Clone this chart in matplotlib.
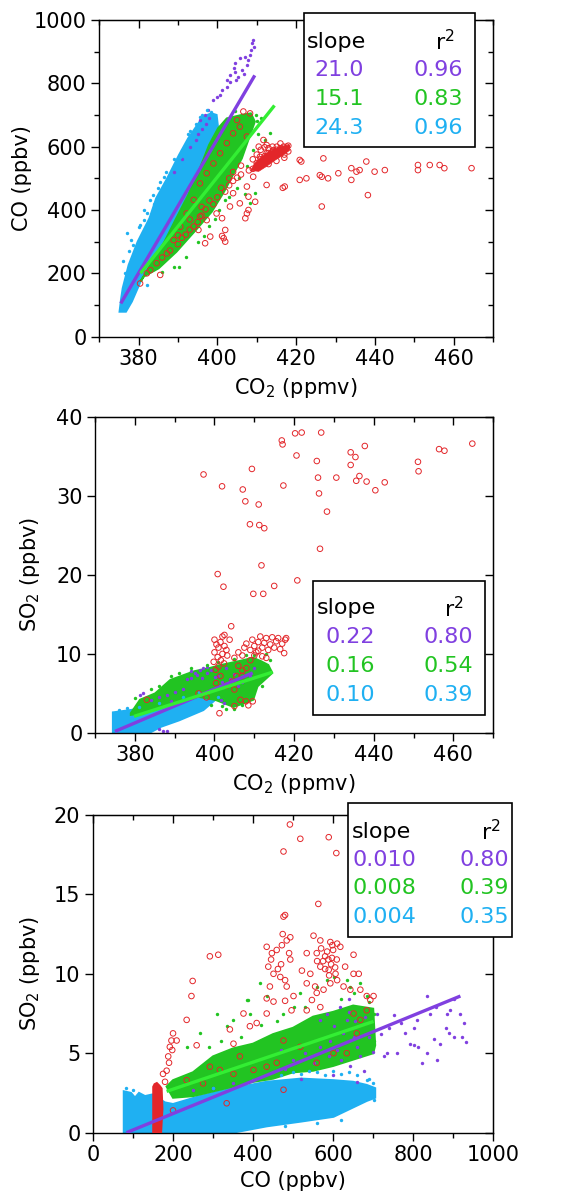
import matplotlib
matplotlib.use("Agg")
import matplotlib.pyplot as plt
from matplotlib.ticker import MultipleLocator, NullFormatter, NullLocator
from matplotlib.patches import Rectangle

PURPLE = "#8040e0"
GREEN = "#22c422"
GREEN_LINE = "#33ee33"
BLUE = "#1fb0f2"
RED = "#e3262a"

# ---------------- panel 1 : CO vs CO2 ----------------
p1_blue_env_x = [375.2, 375.6, 376.0, 377.5, 379.8, 382.8, 384.5, 387.3, 390.3, 392.6, 396.4, 398.5, 399.8,
                 400.2, 397.9, 395.6, 392.6, 389.6, 386.6, 383.5, 380.5, 378.3, 376.8]
p1_blue_env_y = [79, 120, 153, 226, 300, 374, 437, 500, 574, 626, 695, 705, 700,
                 658, 605, 532, 447, 374, 300, 237, 174, 111, 79]
p1_blue_dots = [(383.8, 447), (385.5, 489), (390.6, 568), (391.8, 600), (393.9, 632), (395.6, 695), (381.3, 368),
                (382.1, 389), (388.9, 463), (382.1, 163), (377, 326), (378.2, 305), (387, 520), (389.5, 540),
                (380, 345), (384, 420), (393, 650), (376, 240), (398.5, 710), (397.5, 715), (383, 430),
                (385, 470), (386.5, 505), (389, 560), (391, 590), (392.5, 640), (381.5, 400), (378.5, 290),
                (377.5, 270), (376.5, 200), (394.5, 670), (396, 700), (380.5, 352), (386, 455), (388, 480)]
p1_green_env_x = [380.5, 383.5, 386.6, 389.6, 392.6, 395.6, 397.9, 400.2, 402.4, 406.2, 408.5,
                  409.5, 407.7, 406.2, 403.9, 401.7, 398.6, 394.9, 389.6, 385.1, 381.3]
p1_green_env_y = [174, 237, 300, 374, 447, 532, 605, 658, 689, 700, 705,
                  679, 616, 563, 510, 458, 395, 342, 268, 216, 190]
p1_green_dots = [(409.5, 453), (408.3, 421), (413.4, 642), (412, 620), (388.9, 221), (386, 205), (405, 470),
                 (407, 450), (384, 215), (402, 430), (410, 680), (411, 690), (409.8, 700), (404.5, 712),
                 (390.3, 221), (392, 250), (395, 300), (398, 350), (400.5, 400), (403, 440), (405.5, 500),
                 (407.5, 540), (409, 590), (410.2, 640), (396.5, 318), (399.5, 372)]
p1_purple_dots = [(399, 747), (399.8, 757), (401.1, 779), (402.4, 811), (403.2, 826), (404.1, 847), (404.5, 863),
                  (405.8, 879), (407, 884), (408.3, 889), (408.7, 926), (409, 937), (407.9, 874), (405.3, 821),
                  (403.2, 805), (402.4, 789), (400.7, 763), (397.7, 716), (395.6, 684), (396.9, 700),
                  (404.5, 837), (406.2, 842), (407.5, 858), (404.7, 810), (406.8, 830), (408.5, 905), (409.2, 915),
                  (393, 600), (395, 640), (397, 670), (398, 690), (394.5, 620), (396, 655), (391, 560), (389, 520)]
p1_red_core_x = [408.5, 409.5, 411, 413, 415.5, 418.3, 418.3, 416.5, 414.5, 412.5, 410.5]
p1_red_core_y = [525, 548, 566, 584, 598, 606, 588, 572, 556, 538, 522]
p1_red = [(412.5, 479), (417.1, 474), (416.6, 470), (420.9, 495), (422.6, 500), (420.9, 558), (426.9, 563),
          (426.5, 505), (426.0, 510), (428.1, 500), (430.7, 516), (426.5, 411), (434, 532), (434, 495),
          (435.3, 521), (436.1, 526), (437.8, 553), (438.2, 447), (439.9, 521), (442.5, 526), (450.9, 542),
          (450.9, 526), (453.9, 542), (456.4, 542), (457.6, 532), (464.5, 532), (421.3, 553),
          (385.5, 195), (380.4, 168), (382.1, 200), (396.9, 295), (398.2, 316), (401.6, 311), (402, 300),
          (401.2, 318), (395.2, 337), (402, 337), (401.2, 374), (407.9, 400), (407.5, 389), (407.1, 374),
          (409.6, 426), (407.9, 442), (397.3, 368), (395.6, 379), (399.8, 389), (403.2, 411), (405.7, 421),
          (404, 453), (407.5, 474), (409.1, 505), (410, 537), (410.8, 568), (412.5, 579), (414.2, 589),
          (415.1, 600), (416.8, 600), (417.6, 600), (410.5, 600), (411.7, 621), (412.5, 605), (407.5, 632),
          (408.3, 705), (406.6, 711), (405, 684), (405.7, 663), (404, 642), (402.4, 611), (400.7, 579),
          (399, 547), (397.3, 516), (395.6, 484), (394, 432), (392.2, 389), (390.6, 347), (388.9, 305),
          (387.2, 263), (384.6, 232), (383, 210),
          (411, 560), (412, 570), (413, 580), (414, 585), (415, 590), (416, 595), (417, 588), (418, 603),
          (412, 550), (413, 545), (415, 575), (416, 580), (410, 575), (411, 590), (414, 600), (417, 575),
          (409, 560), (410, 548), (408, 525), (412, 598), (416, 610), (413, 595), (414, 565), (415, 555),
          (411, 540), (409, 530), (418, 585), (417, 565),
          (386, 250), (388, 272), (390, 292), (391, 312), (392, 322), (393, 338), (394, 348), (395, 362),
          (396, 382), (397, 402), (399, 418), (400, 440), (402, 458), (403, 478), (404, 492), (405, 502),
          (406, 512), (404, 520), (406, 540), (403, 500), (401, 470), (398, 430), (396, 410), (393, 370),
          (390, 320)]
p1_fit_purple = [(375.5, 105), (409.5, 825)]
p1_fit_green = [(380.5, 200), (414.5, 730)]
p1_slopes = ["21.0", "15.1", "24.3"]
p1_r2 = ["0.96", "0.83", "0.96"]

# ---------------- panel 2 : SO2 vs CO2 ----------------
p2_blue_env_x = [374.5, 374.5, 379.0, 383.6, 389.6, 393.4, 397.2, 399.5, 400.2, 397.2, 391.1, 386.6, 383.6]
p2_blue_env_y = [0, 2.6, 2.9, 3.3, 4.2, 4.6, 5.0, 5.0, 4.2, 2.9, 1.6, 0.8, 0]
p2_blue_dots = [(376, 2.9), (378, 3.1), (381, 3.3), (386, 3.8), (392, 4.6), (396, 5.2), (399, 5.4), (401, 4.6)]
p2_green_env_x = [379.0, 381.3, 385.1, 388.9, 391.1, 394.9, 398.7, 401.7, 406.3, 409.7, 411.6, 413.5,
                  414.5, 410.8, 409.7, 404.8, 400.2, 395.7, 391.1, 386.6, 382.0, 379.0]
p2_green_env_y = [2.5, 4.2, 5.0, 6.7, 7.1, 7.8, 8.2, 8.6, 9.1, 9.5, 9.1, 8.6,
                  7.6, 5.9, 4.2, 3.3, 4.2, 4.6, 3.7, 3.3, 2.5, 2.3]
p2_green_dots = [(386, 6.0), (389, 7.2), (391, 7.6), (394, 8.2), (398, 8.6), (401, 9.0), (405, 9.4), (408, 9.8),
                 (410, 9.9), (413, 10.0), (407, 3.6), (405, 3.0), (403, 3.0), (409, 5.2), (408, 4.3), (406, 4.6),
                 (411, 6.8), (384, 5.6), (380, 4.4), (399, 3.6), (402, 3.4), (412, 6.0), (414, 9.2)]
p2_purple_dots = [(382.1, 5.05), (381.3, 4.8), (384, 4.2), (386, 4.5), (388, 4.8), (390, 5.2), (392, 5.5),
                  (394.2, 7.0), (394.2, 7.8), (396.4, 8.0), (397.2, 8.2), (398, 8.4), (399, 8.0), (400.2, 7.1),
                  (401, 7.2), (402, 6.5), (404, 6.8), (405, 7.5), (406, 6.0), (403, 8.2), (395, 7.6), (393, 6.8),
                  (389, 4.0), (387, 0.3), (388, 0.2), (386, 0.5), (401.7, 4.2), (402.4, 3.8), (407, 6.5),
                  (409, 7.2), (410, 8.2), (395.5, 7.3), (396.8, 7.0), (398.2, 7.6)]
p2_red = [(397.25, 32.7), (401.9, 31.2), (400.8, 20.1), (402.25, 18.5), (407.1, 30.8), (407.75, 29.3),
          (409.4, 33.4), (408.9, 26.4), (411.1, 28.9), (411.25, 26.3), (412.5, 25.9), (411.8, 21.2),
          (409.75, 17.6), (412.25, 17.6), (415, 18.6), (416.9, 37.0), (417.1, 36.5), (417.3, 31.3),
          (420.25, 37.9), (421.9, 38.0), (420.6, 35.1), (420.8, 19.3), (425.7, 34.4), (426.0, 32.3),
          (426.25, 30.3), (426.5, 23.3), (426.8, 38.0), (428.25, 28.0), (430.6, 32.3), (434.2, 35.5),
          (434.2, 33.9), (435.4, 34.9), (435.6, 31.9), (436.4, 32.5), (437.75, 36.3), (438.2, 31.8),
          (440.4, 30.7), (442.75, 31.7), (451.1, 34.3), (451.25, 33.1), (456.4, 35.9), (457.75, 35.7),
          (464.75, 36.6),
          (400, 11.8), (400.5, 11.2), (401, 10.8), (401.5, 11.5), (402, 12.2), (402.5, 11.0), (403, 10.5),
          (400, 10.2), (400.8, 9.6), (401.6, 9.2), (402.4, 8.8), (403.2, 9.8), (399.8, 9.0), (401, 8.4),
          (402, 10.0), (403.8, 11.8), (404.2, 13.5), (402.5, 12.4), (400.3, 8.0), (401.5, 7.2),
          (405, 9.5), (406, 10.2), (407, 9.8), (407.5, 10.8), (408, 11.3), (409, 10.5), (409.5, 11.8),
          (410, 11.0), (410.5, 10.2), (411, 11.5), (411.5, 12.2), (412, 10.8), (412.5, 11.4), (413, 12.0),
          (413.5, 10.5), (414, 11.2), (414.5, 12.1), (415, 10.8), (415.5, 11.6), (416, 12.0), (416.5, 10.6),
          (417, 11.3), (417.5, 10.1), (417.75, 11.8), (418, 12.0), (409, 9.2), (410, 9.8), (411, 10.4),
          (412, 9.7), (413, 9.5), (406, 8.5), (407, 7.9), (408, 8.2), (405.5, 7.2), (404.5, 6.5),
          (401.25, 2.5), (405, 3.4), (406.5, 4.2), (407.9, 4.0), (409.6, 4.0), (408.5, 3.5), (407, 7.2),
          (400.4, 6.3), (383, 4.2), (403, 6.0), (405, 5.5), (398, 4.5), (396, 5.0)]
p2_fit_purple = [(375.0, 0.2), (409.6, 7.6)]
p2_fit_green = [(379.8, 2.1), (414.6, 7.7)]
p2_slopes = ["0.22", "0.16", "0.10"]
p2_r2 = ["0.80", "0.54", "0.39"]

# ---------------- panel 3 : SO2 vs CO ----------------
p3_blue_env_x = [77, 77, 95, 105, 115, 130, 148, 180, 200, 267, 350, 434, 520, 601, 650, 684, 705,
                 705, 684, 601, 520, 434, 350]
p3_blue_env_y = [0, 2.6, 2.5, 2.2, 2.5, 2.3, 2.4, 1.9, 1.8, 2.3, 2.8, 3.2, 3.4, 3.3, 3.2, 3.0, 2.8,
                 2.2, 2.0, 1.0, 0.7, 0.4, 0]
p3_blue_dots = [(701, 2.05), (684, 3.3), (700, 3.1), (690, 3.4), (640, 3.8), (560, 3.8), (520, 3.7),
                (470, 3.6), (400, 3.3), (300, 2.8), (620, 0.8), (560, 0.6), (480, 0.4), (82, 2.8), (100, 2.7),
                (600, 3.9), (660, 3.6), (580, 3.6), (620, 3.7), (540, 3.9), (500, 3.8)]
p3_green_env_x = [184, 200, 250, 300, 350, 400, 450, 500, 550, 600, 650, 700, 705,
                  700, 650, 600, 550, 500, 450, 400, 350, 300, 250, 200]
p3_green_env_y = [2.9, 3.3, 3.8, 4.8, 5.3, 5.6, 6.2, 6.6, 7.3, 7.6, 8.0, 7.8, 5.5,
                  5.0, 4.6, 4.2, 3.9, 3.8, 3.4, 3.2, 2.9, 2.6, 2.3, 2.2]
p3_green_dots = [(309, 7.5), (384, 8.35), (392, 7.5), (267, 6.25), (234, 5.4), (334, 6.7), (351, 7.1),
                 (434, 8.6), (476, 7.5), (501, 7.9), (518, 8.8), (559, 9.2), (584, 9.6), (601, 9.8), (634, 9.6),
                 (643, 9.2), (651, 8.8), (668, 9.4), (684, 8.6), (701, 7.5), (701, 5.8), (684, 5.4), (601, 5.4),
                 (559, 5.0), (434, 4.8), (351, 4.15), (267, 3.7), (225, 3.1), (417, 9.45), (388, 8.35),
                 (290, 5.4), (320, 5.8), (370, 6.0), (420, 6.8), (460, 7.0), (530, 7.9), (620, 8.4), (690, 8.2)]
p3_purple_dots = [(568, 7.1), (584, 7.5), (601, 6.7), (593, 5.8), (568, 5.4), (551, 4.4), (618, 7.9), (634, 7.1),
                  (651, 6.0), (668, 4.8), (676, 3.9), (643, 4.2), (610, 5.2), (625, 6.3), (640, 7.6), (655, 7.0),
                  (660, 5.4), (620, 4.6), (590, 4.8), (660, 3.2), (600, 3.6), (530, 5.0), (500, 4.6), (480, 4.0),
                  (520, 3.4), (450, 3.8), (640, 8.4), (680, 7.3), (690, 6.0), (700, 5.1), (470, 5.2), (350, 3.1),
                  (300, 2.8), (250, 2.7),
                  (751, 7.4), (760, 5.0), (780, 6.25), (801, 6.6), (810, 7.1), (801, 5.5), (813, 5.4), (822, 4.4),
                  (835, 5.0), (843, 7.5), (851, 5.9), (860, 4.6), (868, 5.6), (881, 6.6), (885, 7.5), (893, 7.7),
                  (902, 8.4), (918, 7.5), (927, 6.9), (931, 5.7), (922, 6.0), (902, 6.0), (889, 6.25), (856, 7.9),
                  (835, 8.6), (793, 5.6), (735, 5.0), (726, 4.8), (710, 7.5), (720, 6.2), (740, 6.6), (770, 6.9)]
p3_red_block_x = [148, 148, 152, 160, 168, 174, 176, 172]
p3_red_block_y = [-0.3, 2.9, 3.1, 3.2, 3.0, 2.8, 1.5, -0.3]
p3_red = [(492, 19.4), (518, 18.5), (589, 18.6), (608, 17.6), (476, 17.7), (563, 14.4), (476, 13.6), (480, 13.7),
          (474, 12.5), (292, 11.1), (313, 11.2), (249, 9.55), (246, 8.6), (234, 7.1),
          (184, 3.9), (188, 4.8), (192, 5.4), (196, 5.8), (209, 5.8), (200, 6.25), (175, 3.7), (180, 3.2),
          (190, 4.4), (198, 5.2),
          (434, 11.7), (447, 11.3), (459, 11.5), (472, 11.8), (484, 12.1), (493, 12.3), (438, 10.45), (451, 10.0),
          (468, 9.8), (480, 9.6), (493, 10.9), (442, 9.2), (484, 9.2), (501, 8.6), (496, 7.7), (434, 8.45),
          (451, 8.25), (480, 8.3), (445, 10.9), (462, 10.3), (490, 11.3), (470, 10.6),
          (551, 12.4), (568, 12.1), (593, 12.0), (610, 11.9), (618, 11.7), (534, 11.3), (559, 11.3), (580, 11.1),
          (597, 11.0), (609, 10.9), (522, 10.2), (543, 10.0), (568, 10.45), (589, 10.25), (606, 10.0), (534, 9.4),
          (555, 9.2), (576, 9.0), (593, 9.4), (610, 9.6), (626, 9.2), (643, 9.0), (651, 10.0), (630, 10.45),
          (651, 11.2), (664, 10.0), (668, 9.0), (684, 8.6), (693, 8.35), (701, 8.6), (559, 8.8), (547, 8.35),
          (568, 7.9), (534, 7.7), (575, 10.8), (585, 11.4), (595, 10.6), (600, 11.5), (580, 10.3), (590, 9.9),
          (605, 10.4), (570, 11.6), (560, 10.8), (598, 11.8), (588, 10.9),
          (259, 5.5), (342, 6.5), (351, 5.6), (367, 4.8), (292, 4.15), (317, 3.95), (351, 3.7), (401, 3.95),
          (434, 4.15), (459, 4.4), (392, 6.7), (409, 6.9), (434, 7.5), (376, 7.5), (275, 3.1), (234, 3.3),
          (200, 1.4), (334, 1.85), (476, 2.7), (518, 5.4), (559, 4.4), (601, 5.0), (634, 5.0), (659, 6.25),
          (668, 7.1), (684, 7.7), (651, 7.5), (476, 5.8)]
p3_fit_purple = [(83.5, 0.0), (918, 8.6)]
p3_fit_green = [(184, 2.6), (701, 7.0)]
p3_slopes = ["0.010", "0.008", "0.004"]
p3_r2 = ["0.80", "0.39", "0.35"]

plt.rcParams['font.family'] = ['DejaVu Sans']
plt.rcParams['mathtext.fontset'] = 'dejavusans'

fig = plt.figure(figsize=(5.83, 12.02), dpi=100)
ax1 = fig.add_axes([0.170, 0.7199, 0.676, 0.2635])
ax2 = fig.add_axes([0.163, 0.3902, 0.683, 0.2631])
ax3 = fig.add_axes([0.1595, 0.0577, 0.6865, 0.2643])


def xy(pts):
    return [p[0] for p in pts], [p[1] for p in pts]


def draw(ax, blue_env, green_env, blue_dots, green_dots, purple_dots, red, fit_p, fit_g):
    # dense cores of the point clouds, then the loose points around them
    ax.fill(blue_env[0], blue_env[1], color=BLUE, lw=1.5, zorder=1)
    ax.fill(green_env[0], green_env[1], color=GREEN, lw=1.5, zorder=1.2)
    x, y = xy(purple_dots)
    ax.scatter(x, y, s=6, color=PURPLE, lw=0, zorder=2)
    x, y = xy(green_dots)
    ax.scatter(x, y, s=6, color=GREEN, lw=0, zorder=2)
    x, y = xy(blue_dots)
    ax.scatter(x, y, s=6, color=BLUE, lw=0, zorder=2)
    x, y = xy(red)
    ax.scatter(x, y, s=16, facecolor="none", edgecolor=RED, lw=0.7, zorder=3)
    x, y = xy(fit_p)
    ax.plot(x, y, color=PURPLE, lw=2.4, zorder=4, solid_capstyle="butt")
    x, y = xy(fit_g)
    ax.plot(x, y, color=GREEN_LINE, lw=2.4, zorder=4, solid_capstyle="butt")


draw(ax1, (p1_blue_env_x, p1_blue_env_y), (p1_green_env_x, p1_green_env_y), p1_blue_dots, p1_green_dots,
     p1_purple_dots, p1_red, p1_fit_purple, p1_fit_green)
ax1.fill(p1_red_core_x, p1_red_core_y, color=RED, lw=0.5, zorder=2.5)
draw(ax2, (p2_blue_env_x, p2_blue_env_y), (p2_green_env_x, p2_green_env_y), p2_blue_dots, p2_green_dots,
     p2_purple_dots, p2_red, p2_fit_purple, p2_fit_green)
draw(ax3, (p3_blue_env_x, p3_blue_env_y), (p3_green_env_x, p3_green_env_y), p3_blue_dots, p3_green_dots,
     p3_purple_dots, p3_red, p3_fit_purple, p3_fit_green)
ax3.fill(p3_red_block_x, p3_red_block_y, color=RED, lw=0, zorder=3)


def style(ax, xlim, ylim, xmaj, xmin, ymaj, ymin, xlabel, ylabel, xl_y, yl_x):
    ax.set_xlim(*xlim)
    ax.set_ylim(*ylim)
    for sp in ax.spines.values():
        sp.set_linewidth(1.0)
    ax.xaxis.set_major_locator(MultipleLocator(xmaj))
    ax.xaxis.set_minor_locator(MultipleLocator(xmin) if xmin else NullLocator())
    ax.yaxis.set_major_locator(MultipleLocator(ymaj))
    ax.yaxis.set_minor_locator(MultipleLocator(ymin) if ymin else NullLocator())
    ax.tick_params(which="both", direction="out", labelsize=15, width=1.0, pad=3)
    ax.tick_params(which="major", length=6)
    ax.tick_params(which="minor", length=3.5)
    ax.set_xlabel(xlabel, fontsize=15)
    ax.set_ylabel(ylabel, fontsize=15)
    ax.xaxis.set_label_coords(0.5, xl_y)
    ax.yaxis.set_label_coords(yl_x, 0.5)
    # mirror axes with inward ticks
    top = ax.secondary_xaxis("top")
    top.xaxis.set_major_locator(MultipleLocator(xmaj))
    top.xaxis.set_minor_locator(MultipleLocator(xmin) if xmin else NullLocator())
    top.xaxis.set_major_formatter(NullFormatter())
    top.tick_params(which="both", direction="in", width=1.0)
    top.tick_params(which="major", length=6)
    top.tick_params(which="minor", length=3.5)
    right = ax.secondary_yaxis("right")
    right.yaxis.set_major_locator(MultipleLocator(ymaj))
    right.yaxis.set_minor_locator(MultipleLocator(ymin) if ymin else NullLocator())
    right.yaxis.set_major_formatter(NullFormatter())
    right.tick_params(which="both", direction="in", width=1.0)
    right.tick_params(which="major", length=6)
    right.tick_params(which="minor", length=3.5)


style(ax1, (370, 470), (0, 1000), 20, 10, 200, 100, "CO$_2$ (ppmv)", "CO (ppbv)", -0.125, -0.171)
style(ax2, (370, 470), (0, 40), 20, 10, 10, None, "CO$_2$ (ppmv)", "SO$_2$ (ppbv)", -0.124, -0.133)
style(ax3, (0, 1000), (0, 20), 200, 100, 5, None, "CO (ppbv)", "SO$_2$ (ppbv)", -0.122, -0.128)


def stats_box(x0, y0, w, h, xs, xv, xr, rows, slopes, r2):
    fig.patches.append(Rectangle((x0, y0), w, h, transform=fig.transFigure, facecolor="white",
                                 edgecolor="black", lw=1.2, zorder=5))
    fig.text(xs, rows[0], "slope", fontsize=16, va="center", ha="left", zorder=6)
    fig.text(xr - 0.015, rows[0], "r$^2$", fontsize=16, va="center", ha="right", zorder=6)
    for yy, s, r, c in zip(rows[1:], slopes, r2, [PURPLE, GREEN, BLUE]):
        fig.text(xv, yy, s, fontsize=16, va="center", ha="left", color=c, zorder=6)
        fig.text(xr, yy, r, fontsize=16, va="center", ha="right", color=c, zorder=6)


stats_box(0.5214, 0.8777, 0.2933, 0.1115, 0.527, 0.540, 0.794, [0.9653, 0.9418, 0.9176, 0.8935], p1_slopes, p1_r2)
stats_box(0.537, 0.4052, 0.295, 0.1117, 0.543, 0.5575, 0.8108, [0.4939, 0.4698, 0.4459, 0.4218], p2_slopes, p2_r2)
stats_box(0.5975, 0.2207, 0.2802, 0.111, 0.603, 0.605, 0.8736, [0.3081, 0.2845, 0.261, 0.2374], p3_slopes, p3_r2)

fig.savefig("out.png", dpi=100)
